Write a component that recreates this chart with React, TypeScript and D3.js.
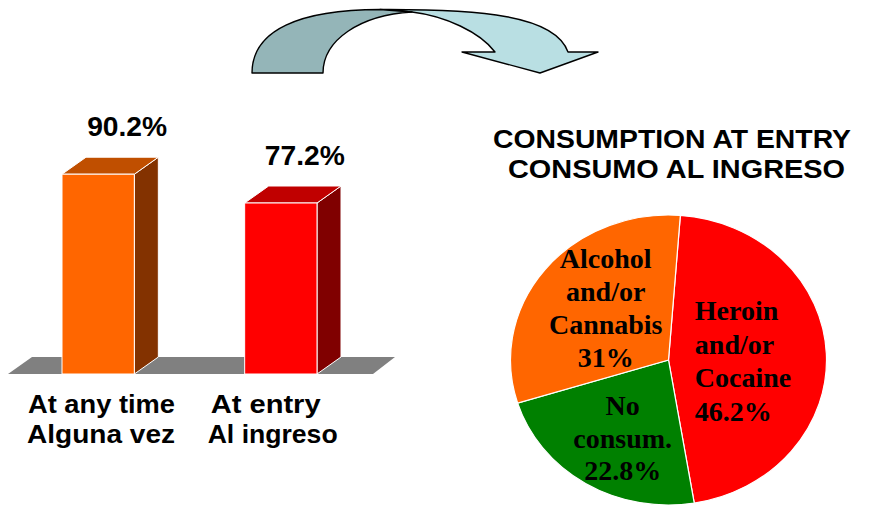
import React from "react";
import * as d3 from "d3";

// ---- Data ----
const barCategories = ["At any time|Alguna vez", "At entry|Al ingreso"];
const barValues = [90.2, 77.2];
const barLabels = ["90.2%", "77.2%"];

const pieCategories = ["Heroin|and/or|Cocaine", "No|consum.", "Alcohol|and/or|Cannabis"];
const pieValues = [46.2, 22.8, 31];
const pieLabels = ["46.2%", "22.8%", "31%"];

const titleLines = ["CONSUMPTION AT ENTRY", "CONSUMO AL INGRESO"];

// ---- Styles / layout ----
const W = 869;
const H = 506;
const SANS = "'Liberation Sans', Arial, sans-serif";
const SERIF = "'Liberation Serif', 'Times New Roman', serif";

const barFront = ["#FF6600", "#FF0000"];
const barTop = ["#C04F00", "#C00000"];
const barSide = ["#833200", "#800000"];
const pieColors = ["#FF0000", "#008000", "#FF6600"];

const FLOOR_Y = 374;
const DX = 24;
const DY = 17;

export default function App() {
  const x = d3
    .scaleBand<string>()
    .domain(barCategories)
    .range([62, 317])
    .paddingInner(0.604)
    .paddingOuter(0);
  const y = d3.scaleLinear().domain([0, 100]).range([FLOOR_Y, 152.5]);
  const bw = x.bandwidth();

  // floor
  const fl = 8;
  const fr = 373;
  const floorPts = `${fl},${FLOOR_Y} ${fl + DX},${FLOOR_Y - DY} ${fr + DX - 2},${FLOOR_Y - DY} ${fr},${FLOOR_Y}`;

  // pie
  const R = 145;
  const RX = 158;
  const cx = 668.5;
  const cy = 360;
  const sx = RX / R;
  const start = (4.3 * Math.PI) / 180;
  const pie = d3
    .pie<number>()
    .sort(null)
    .startAngle(start)
    .endAngle(start + 2 * Math.PI);
  const arcs = pie(pieValues);
  const arcGen = d3.arc<d3.PieArcDatum<number>>().innerRadius(0).outerRadius(R);
  const labelFrac = [0.49, 0.6, 0.54];
  const lineH = [33.5, 32.5, 33];
  const anchors = ["start", "middle", "middle"];
  const anchorOffset = [-51, 4, 4];
  const anchorDy = [4, 4, -3];

  const catWidths = [
    [147, 148],
    [110, 130],
  ];
  const valueDx = [4, -1];

  return (
    <svg
      width={W}
      height={H}
      style={{ position: "absolute", left: 0, top: 0, background: "#fff" }}
    >
      <rect x={0} y={0} width={W} height={H} fill="#fff" />

      {/* Curved arrow */}
      <g stroke="#000" strokeWidth={1.4} strokeLinejoin="round">
        <path
          d="M380,9.5 C480,9 555,15 568,52 L598,52 L540,73 L462,52 L495,52 C480,32 445,16 412,12 Z"
          fill="#B9DFE3"
        />
        <path
          d="M252,73 C252,30 300,9.5 380,9.5 L412,12 C360,15 323,40 323,73 Z"
          fill="#94B5B8"
        />
      </g>

      {/* Floor */}
      <polygon points={floorPts} fill="#808080" />

      {/* Bars */}
      {barCategories.map((c, i) => {
        const x0 = x(c) as number;
        const yt = y(barValues[i]);
        const x1 = x0 + bw;
        return (
          <g key={c} stroke="#fff" strokeWidth={1} strokeLinejoin="round">
            <polygon
              points={`${x1},${yt} ${x1 + DX},${yt - DY} ${x1 + DX},${FLOOR_Y - DY} ${x1},${FLOOR_Y}`}
              fill={barSide[i]}
            />
            <polygon
              points={`${x0},${yt} ${x0 + DX},${yt - DY} ${x1 + DX},${yt - DY} ${x1},${yt}`}
              fill={barTop[i]}
            />
            <rect x={x0} y={yt} width={bw} height={FLOOR_Y - yt} fill={barFront[i]} />
          </g>
        );
      })}

      {/* Bar value labels */}
      {barCategories.map((c, i) => {
        const x0 = x(c) as number;
        const yt = y(barValues[i]);
        return (
          <text
            key={"v" + c}
            x={x0 + bw / 2 + DX + 1 + valueDx[i]}
            y={yt - DY - 21}
            textAnchor="middle"
            fontFamily={SANS}
            fontWeight="bold"
            fontSize={27}
            textLength={80}
            lengthAdjust="spacingAndGlyphs"
            fill="#000"
          >
            {barLabels[i]}
          </text>
        );
      })}

      {/* Category labels */}
      {barCategories.map((c, i) => {
        const x0 = x(c) as number;
        return c.split("|").map((line, j) => (
          <text
            key={c + j}
            x={x0 - 34 - j * (i === 1 ? 3 : 1)}
            y={413 + j * 30}
            fontFamily={SANS}
            fontWeight="bold"
            fontSize={25}
            textLength={catWidths[i][j]}
            lengthAdjust="spacingAndGlyphs"
            fill="#000"
          >
            {line}
          </text>
        ));
      })}

      {/* Pie title */}
      {titleLines.map((t, i) => (
        <text
          key={t}
          x={i === 0 ? 672 : 676.5}
          y={148 + i * 30}
          textAnchor="middle"
          fontFamily={SANS}
          fontWeight="bold"
          fontSize={25}
          textLength={i === 0 ? 358 : 337}
          lengthAdjust="spacingAndGlyphs"
          fill="#000"
        >
          {t}
        </text>
      ))}

      {/* Pie */}
      <g transform={`translate(${cx},${cy}) scale(${sx},1)`}>
        {arcs.map((a, i) => (
          <path
            key={i}
            d={arcGen(a) as string}
            fill={pieColors[i]}
            stroke="#fff"
            strokeWidth={1.2}
            vectorEffect="non-scaling-stroke"
          />
        ))}
      </g>

      {/* Pie labels */}
      {arcs.map((a, i) => {
        const lg = d3
          .arc<d3.PieArcDatum<number>>()
          .innerRadius(R * labelFrac[i])
          .outerRadius(R * labelFrac[i]);
        const [lx, ly] = lg.centroid(a);
        const px = cx + lx * sx + anchorOffset[i];
        const py = cy + ly + anchorDy[i];
        const lines = [...pieCategories[i].split("|"), pieLabels[i]];
        const n = lines.length;
        return (
          <g key={"pl" + i}>
            {lines.map((ln, j) => (
              <text
                key={j}
                x={px}
                y={py + (j - (n - 1) / 2) * lineH[i] + 9.5}
                textAnchor={anchors[i] as any}
                fontFamily={SERIF}
                fontWeight="bold"
                fontSize={28}
                fill="#000"
              >
                {ln}
              </text>
            ))}
          </g>
        );
      })}
    </svg>
  );
}
